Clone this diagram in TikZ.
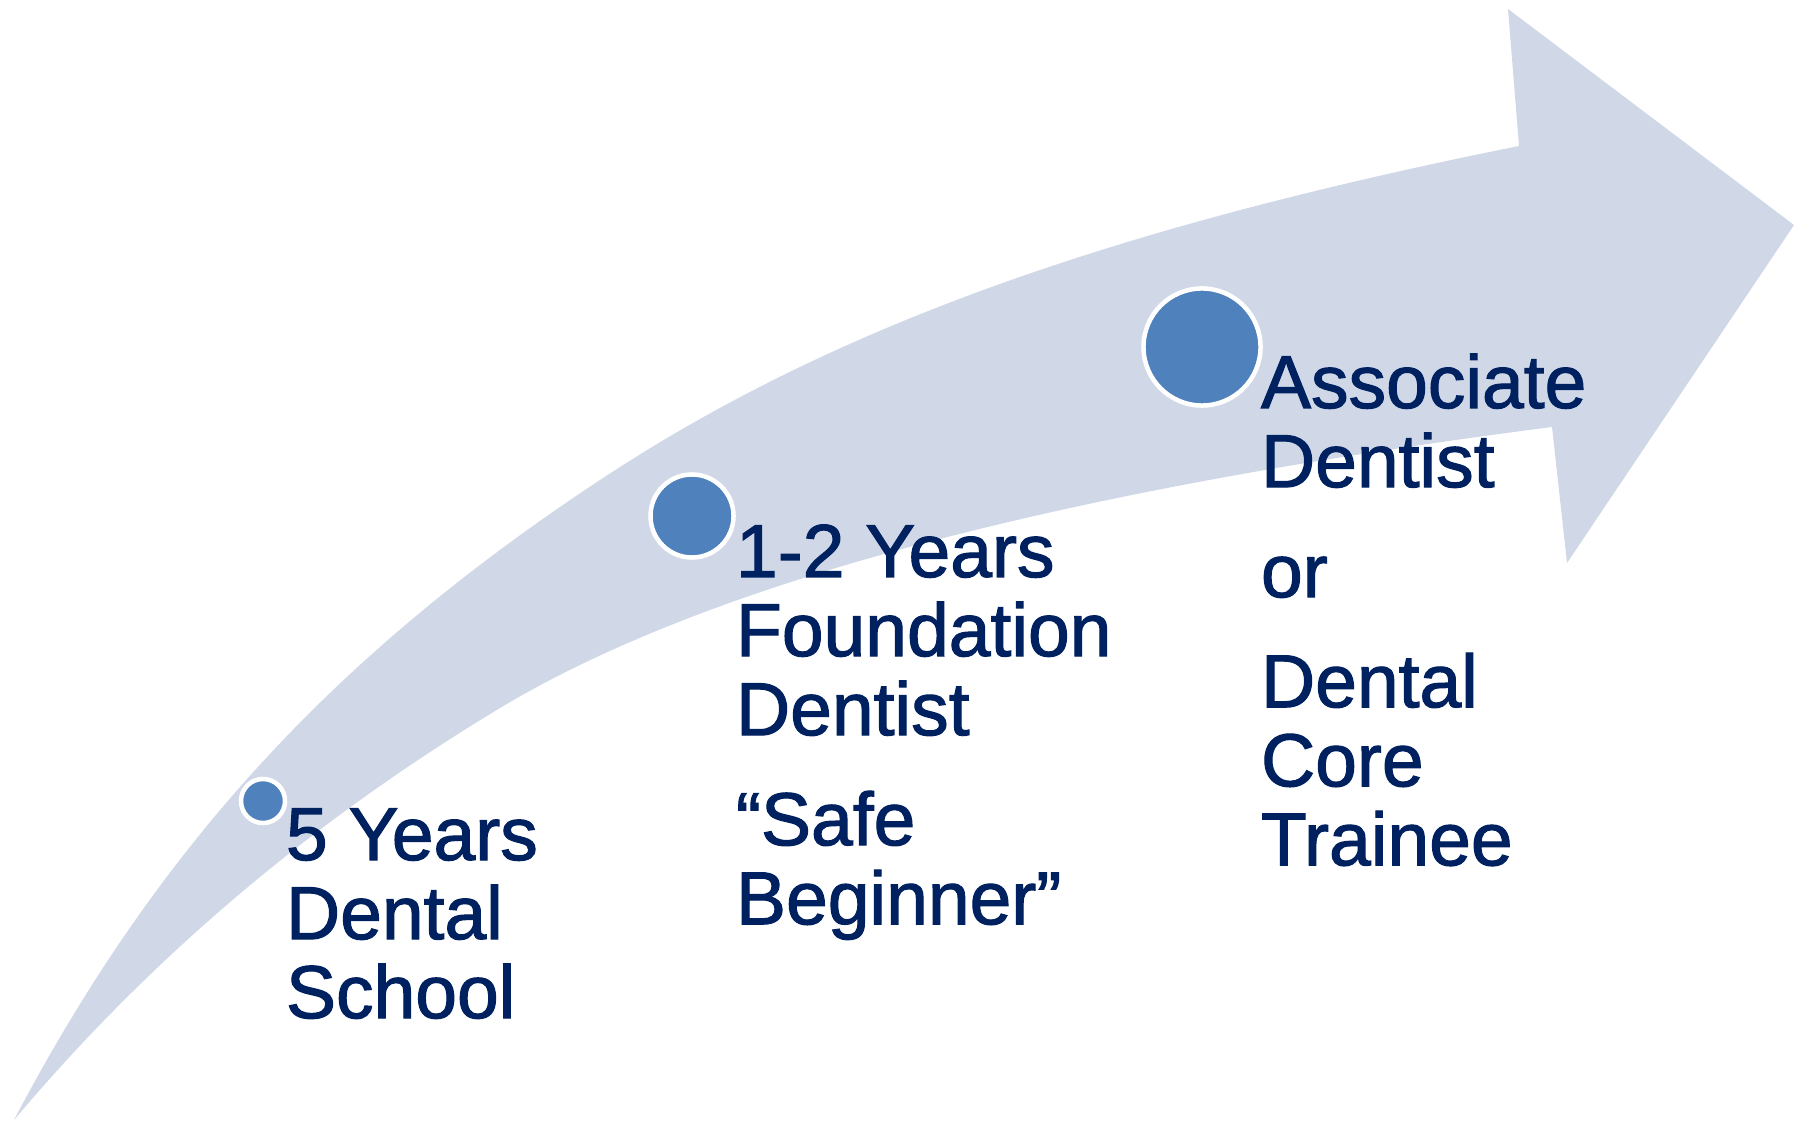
\documentclass[tikz,border=0pt]{standalone}
\usepackage{fontspec}
\setmainfont{Liberation Sans}[FakeBold=1.5]
\definecolor{bandfill}{RGB}{208,216,232}
\definecolor{dotfill}{RGB}{79,129,189}
\definecolor{navytext}{RGB}{0,33,96}
\tikzset{
  dot/.style={circle, fill=dotfill, draw=white, line width=0.045cm, inner sep=0pt},
  lbl/.style={anchor=base west, inner sep=0pt, outer sep=0pt, text=navytext,
    font=\fontsize{21.34pt}{22.48pt}\selectfont}
}
\begin{document}
\begin{tikzpicture}[x=0.01cm, y=-0.01cm]
\useasboundingbox (0,0) rectangle (1794,1122);
\fill[white] (0,0) rectangle (1794,1122);
% curved arrow
\fill[bandfill] (14,1120)
  .. controls (156.9,848.4) and (332.7,656.4) .. (600,480)
  .. controls (828.6,329.1) and (1105.1,229.1) .. (1519,146)
  -- (1508,9) -- (1794,225) -- (1567,563) -- (1552,427)
  .. controls (1054.8,490.9) and (706.8,584) .. (500,708)
  .. controls (310.5,822.3) and (150.7,957.7) .. (14,1120) -- cycle;
% milestones
\node[dot, minimum size=0.44cm] (c1) at (263,801) {};
\node[dot, minimum size=0.83cm] (c2) at (692,516) {};
\node[dot, minimum size=1.17cm] (c3) at (1202,347) {};
% labels
\node[lbl] (t1) at (286,860) {\vtop{\hbox{5 Years}\hbox{Dental}\hbox{School}}};
\node[lbl] (t2) at (736,577) {\vtop{\hbox{1-2 Years}\hbox{Foundation}\hbox{Dentist}\vskip0.31cm\hbox{“Safe}\hbox{Beginner”}}};
\node[lbl] (t3) at (1261,408) {\vtop{\hbox{Associate}\hbox{Dentist}\vskip0.31cm\hbox{or}\vskip0.31cm\hbox{Dental}\hbox{Core}\hbox{Trainee}}};
\end{tikzpicture}
\end{document}
